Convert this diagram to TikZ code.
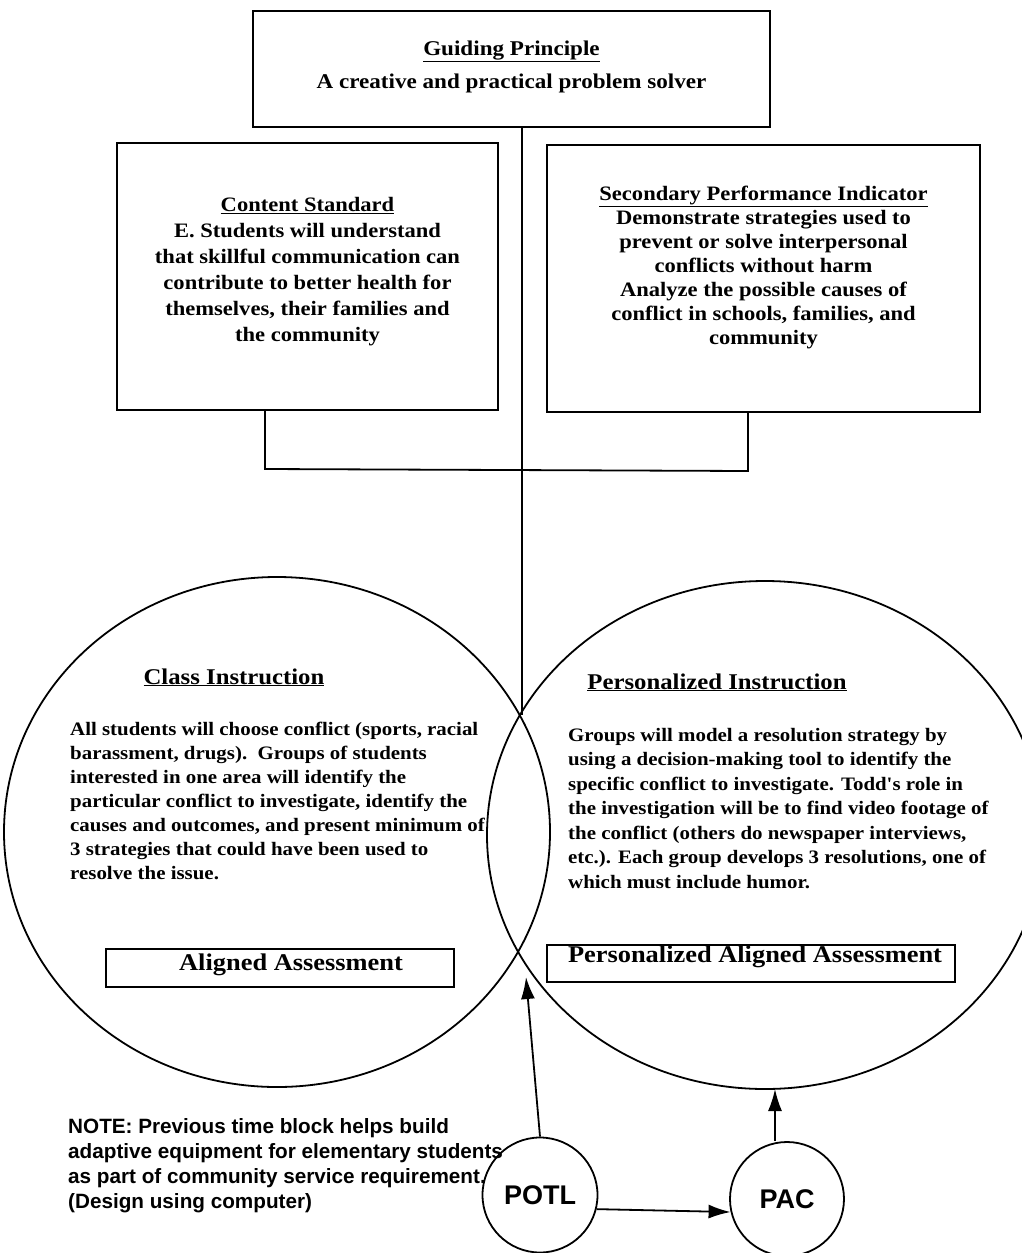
\documentclass[tikz,border=0pt]{standalone}
\usepackage{fontspec}
\newfontfamily\sbf{Liberation Serif Bold}[FakeStretch=1.1]
\newfontfamily\hbf{Liberation Sans Bold}
\usetikzlibrary{shapes.geometric,arrows.meta}
\newcommand\fsz[2]{\fontsize{#1}{#2}\selectfont}

\begin{document}
\begin{tikzpicture}[x=1pt,y=-1pt,
  box/.style={draw, line width=2pt, inner sep=0pt},
  ring/.style={draw, ellipse, line width=1.8pt, inner sep=0pt},
  bubble/.style={draw, circle, line width=1.8pt, inner sep=0pt, minimum size=115pt, font=\hbf\fsz{27}{30}},
  txt/.style={inner sep=0pt, align=center},
  body/.style={inner sep=0pt, align=left, anchor=north west},
  conn/.style={line width=1.8pt},
  arr/.style={conn, -{Latex[length=22pt,width=14pt]}},
]
\path[use as bounding box, fill=white] (0,0) rectangle (1021,1253);

% top box
\node[box, minimum width=517pt, minimum height=116pt] (gp) at (511.5,69) {};
\node[txt, font=\sbf\fsz{21}{25}] (gpt) at (511.5,67)
  {\underline{Guiding Principle}\\[8pt]A creative and practical problem solver};

% standard and indicator boxes
\node[box, minimum width=381pt, minimum height=267pt] (cs) at (307.5,276.5) {};
\node[txt, font=\sbf\fsz{20.5}{26}] (cst) at (307.5,272)
  {\underline{Content Standard}\\E. Students will understand\\that skillful communication can\\
   contribute to better health for\\themselves, their families and\\the community};

\node[box, minimum width=433pt, minimum height=267pt] (sec) at (763.5,278.5) {};
\node[txt, font=\sbf\fsz{20.5}{24}] (sect) at (763.5,267)
  {\underline{Secondary Performance Indicator}\\Demonstrate strategies used to\\prevent or solve interpersonal\\
   conflicts without harm\\Analyze the possible causes of\\conflict in schools, families, and\\community};

% instruction circles
\node[ring, minimum width=546pt, minimum height=510pt] (cls) at (277,832) {};
\node[ring, minimum width=556pt, minimum height=508pt] (per) at (765,835) {};

\node[inner sep=0pt, anchor=base, font=\sbf\fsz{22.5}{27}] (clst) at (234,684) {\underline{Class Instruction}};
\node[body, font=\sbf\fsz{19}{24}] (clsb) at (70,722)
  {All students will choose conflict (sports, racial\\barassment, drugs).\ \ Groups of students\\
   interested in one area will identify the\\particular conflict to investigate, identify the\\
   causes and outcomes, and present minimum of\\3 strategies that could have been used to\\resolve the issue.};

\node[inner sep=0pt, anchor=base, font=\sbf\fsz{22.5}{27}] (pert) at (717,689) {\underline{Personalized Instruction}};
\node[body, font=\sbf\fsz{19}{24.5}] (perb) at (568,728)
  {Groups will model a resolution strategy by\\using a decision-making tool to identify the\\
   specific conflict to investigate. Todd's role in\\the investigation will be to find video footage of\\
   the conflict (others do newspaper interviews,\\etc.). Each group develops 3 resolutions, one of\\
   which must include humor.};

% assessment boxes
\node[box, minimum width=348pt, minimum height=38pt, font=\sbf\fsz{24}{28}] (aa) at (280,968)
  {\hspace*{22pt}\raisebox{3pt}[\height][\depth]{Aligned Assessment}};
\node[box, minimum width=408pt, minimum height=37pt, font=\sbf\fsz{24}{28}] (paa) at (751,963.5)
  {\hspace*{8pt}\raisebox{7pt}[\height][\depth]{Personalized Aligned Assessment}};

% lower bubbles and note
\node[bubble] (potl) at (540,1195) {POTL};
\node[bubble, minimum size=114pt] (pac) at (787,1199) {PAC};

\node[body, font=\hbf\fsz{20.7}{25}] (note) at (68,1118)
  {NOTE: Previous time block helps build\\adaptive equipment for elementary students\\
   as part of community service requirement.\\(Design using computer)};

% connectors
\coordinate (vx) at (522,715);
\draw[conn] (gp.south -| vx) -- (vx);
\coordinate (bl) at (265,469);
\coordinate (br) at (748,471);
\draw[conn] (cs.south -| bl) -- (bl) -- (br) -- (sec.south -| br);
\coordinate (tipL) at (526,977);
\draw[arr] (potl.north) -- (tipL);
\draw[arr] (potl.-14) -- (pac.193);
\coordinate (tipR) at (775,1089);
\draw[arr] (pac.north -| tipR) -- (tipR);
\end{tikzpicture}
\end{document}
